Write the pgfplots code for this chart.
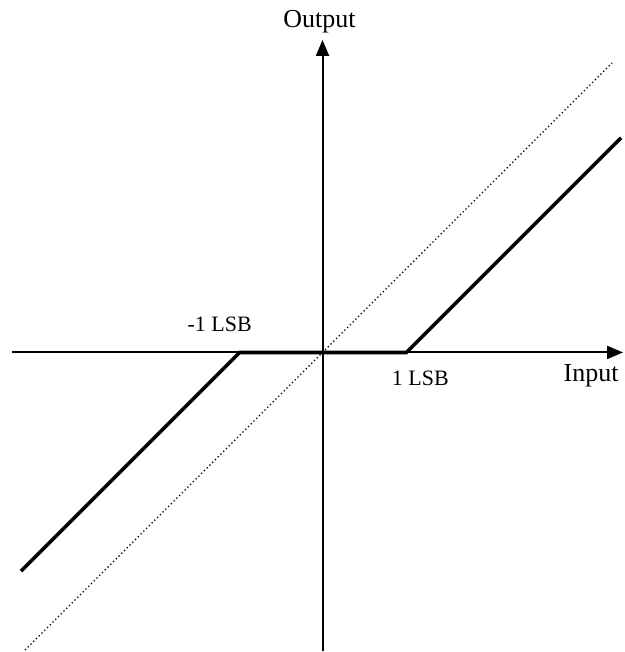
\documentclass[border=0pt]{standalone}
\usepackage{pgfplots}
\pgfplotsset{compat=1.18}
\usepackage{fontspec}
\setmainfont{Liberation Serif}
\usetikzlibrary{arrows.meta}
\begin{document}
\begin{tikzpicture}
\begin{axis}[
  scale only axis, width=624pt, height=652pt,
  xmin=-323, xmax=301, ymin=-299, ymax=353,
  hide axis, clip=false,
]
\path (axis cs:-323,-299) rectangle (axis cs:301,353);
% axes
\addplot[black, line width=2pt, -{Triangle[length=16pt,width=13pt]}] coordinates {(-311,0) (301,0)};
\addplot[black, line width=2pt, -{Triangle[length=16pt,width=13pt]}] coordinates {(0,-299) (0,313)};
% ideal (dotted)
\addplot[black, line width=1.3pt, dash pattern=on 1.3pt off 2.6pt] coordinates {(-298,-298) (290,290)};
% transfer characteristic
\addplot[black, line width=3.6pt] coordinates {(-302,-219) (-83,0) (84,0) (299,215)};
% labels
\node[anchor=base, font=\fontsize{26}{30}\selectfont] at (axis cs:-3,325) {Output};
\node[anchor=base, font=\fontsize{26}{30}\selectfont] at (axis cs:269,-29) {Input};
\node[anchor=base, font=\fontsize{22}{26}\selectfont] at (axis cs:98,-33) {1 LSB};
\node[anchor=base, font=\fontsize{22}{26}\selectfont] at (axis cs:-103,21) {-1 LSB};
\end{axis}
\end{tikzpicture}
\end{document}
